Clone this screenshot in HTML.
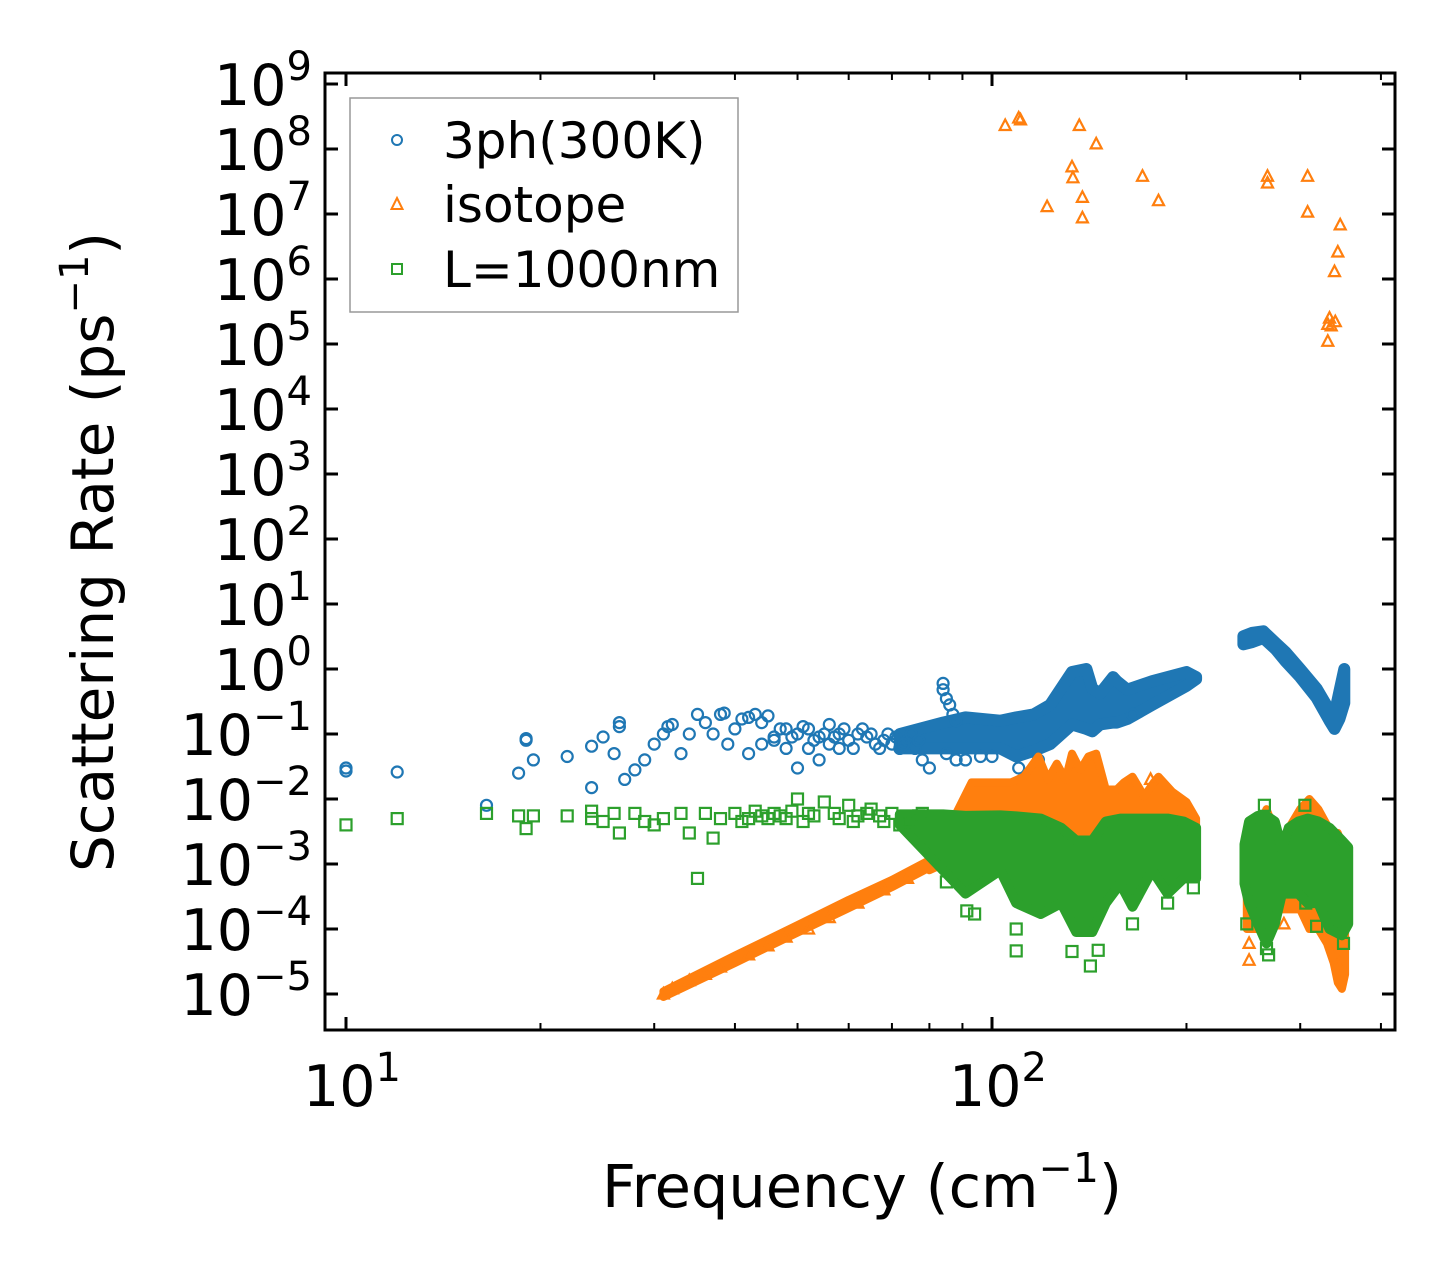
<!DOCTYPE html>
<html><head><meta charset="utf-8"><title>Scattering Rate</title>
<style>html,body{margin:0;padding:0;background:#fff}svg{display:block}text{font-family:"DejaVu Sans","Liberation Sans",sans-serif}</style>
</head><body>
<svg id="chart" width="1455" height="1280" viewBox="0 0 1455 1280" xmlns="http://www.w3.org/2000/svg">
<rect x="0" y="0" width="1455" height="1280" fill="#fff"/>
<defs><clipPath id="plotclip"><rect x="325" y="73" width="1070" height="957"/></clipPath></defs>
<g id="marks" clip-path="url(#plotclip)"></g>
<g id="axes"></g>
<g id="legend">
<rect x="350" y="98" width="388" height="214" fill="#fff" fill-opacity="0.8" stroke="#999" stroke-width="1.5"/>
<circle cx="397" cy="140" r="5" fill="none" stroke="#1f77b4" stroke-width="2"/>
<text x="443" y="158" font-size="50">3ph(300K)</text>
<polygon points="397,198 402.5,209 391.5,209" fill="none" stroke="#ff7f0e" stroke-width="2"/>
<text x="443" y="222" font-size="50">isotope</text>
<rect x="392" y="264" width="10" height="10" fill="none" stroke="#2ca02c" stroke-width="2"/>
<text x="443" y="287" font-size="50">L=1000nm</text>
</g>
<text x="862" y="1207" font-size="59" text-anchor="middle">Frequency (cm<tspan font-size="41" dy="-25">−1</tspan><tspan dy="25">)</tspan></text>
<text transform="translate(113,552) rotate(-90)" font-size="58" text-anchor="middle">Scattering Rate (ps<tspan font-size="40" dy="-25">−1</tspan><tspan dy="25">)</tspan></text>
</svg>
<script>
// ---- data ----
const xTickExps = [1, 2];
const yTickExps = [9,8,7,6,5,4,3,2,1,0,-1,-2,-3,-4,-5];
const xMinorTicks = [9,20,30,40,50,60,70,80,90,200,300,400];

// 3ph scattered points [freq, rate]
const threephPoints = [[10,0.03],[10,0.027],[12,0.026],[16.5,0.008],[18.5,0.025],[19,0.08],[19,0.085],[19.5,0.04],[22,0.045],[24,0.015],[24,0.065],[25,0.09],[26,0.05],[26.5,0.13],[26.5,0.15],[27,0.02],[28,0.028],[29,0.04],[30,0.07],[31,0.1],[31.5,0.13],[32,0.14],[33,0.05],[34,0.1],[35,0.2],[36,0.15],[37,0.1],[38,0.2],[38.5,0.21],[39,0.07],[40,0.12],[41,0.17],[42,0.18],[43,0.2],[44,0.15],[45,0.19],[46,0.08],[47,0.12],[48,0.06],[49,0.09],[50,0.03],[51,0.13],[52,0.12],[53,0.08],[54,0.04],[55,0.1],[56,0.14],[57,0.09],[58,0.06],[59,0.12],[60,0.08],[62,0.1],[64,0.09],[66,0.07],[68,0.08],[70,0.07],[72,0.06],[74,0.08],[76,0.06],[78,0.04],[84,0.6],[84,0.48],[85,0.35],[86,0.28],[87,0.2],[88,0.16],[80,0.03],[85,0.05],[88,0.04],[91,0.04],[96,0.045],[100,0.045],[110,0.03],[118,0.04],[165,0.2],[42,0.05],[44,0.07],[46,0.09],[48,0.12],[50,0.1],[52,0.06],[54,0.09],[56,0.07],[58,0.1],[61,0.06],[63,0.12],[65,0.1],[67,0.06],[69,0.1],[71,0.09],[73,0.07],[75,0.1],[77,0.08]];
// 3ph dense cloud envelopes
const threephBand1Freq = [72,84,91,103,109,116,123,133,140,143,147,154,156,162,177,200,207];
const threephBand1High = [0.1,0.15,0.18,0.16,0.18,0.2,0.28,0.9,1.0,0.5,0.42,0.75,0.65,0.48,0.65,0.9,0.75];
const threephBand1Low  = [0.06,0.06,0.06,0.06,0.045,0.055,0.07,0.14,0.12,0.11,0.14,0.15,0.15,0.17,0.28,0.55,0.7];
const threephBand2Freq = [245,253,263,275,285,300,318,333,339,345,351];
const threephBand2High = [3.2,3.6,3.8,2.5,1.8,1.0,0.5,0.23,0.2,0.45,1.0];
const threephBand2Low  = [2.4,2.6,3.0,2.0,1.3,0.75,0.36,0.16,0.12,0.17,0.3];

// isotope scattered points
const isotopePoints = [[104.8,2.3e8],[110,3e8],[110.7,2.8e8],[121.7,1.3e7],[133,5.3e7],[133.4,3.6e7],[136.5,2.3e8],[138,1.8e7],[138,8.7e6],[145,1.2e8],[171,3.8e7],[181,1.6e7],[267,3.8e7],[267,3e7],[308,3.8e7],[308,1.07e7],[346,6.8e6],[343,2.6e6],[339,1.3e6],[333,2.5e5],[331,2e5],[335,1.9e5],[340,2.2e5],[331,1.1e5],[31,1e-5],[32,1.2e-5],[34,1.6e-5],[36,2e-5],[38,2.6e-5],[42,4e-5],[45,5.5e-5],[48,7.5e-5],[52,1e-4],[56,1.5e-4],[62,2.5e-4],[68,4e-4],[74,6e-4],[176,0.02],[250,6e-5],[250,3.3e-5],[263,2e-4],[266,1.1e-4],[283,1.2e-4],[345,3e-5]];
const isotopeLineFreq = [31,40,50,60,70,80,84];
const isotopeLineHigh = [1.1e-5,3.9e-5,1.15e-4,2.8e-4,5.7e-4,1.15e-3,1.5e-3];
const isotopeLineLow  = [0.9e-5,3e-5,0.88e-4,2.1e-4,4.4e-4,0.88e-3,1.1e-3];
const isotopeBand1Freq = [80,84,88,93,100,107,112,118,122,126,130,133,137,141,145,150,156,160,165,172,178,181,190,200,207];
const isotopeBand1High = [0.001,0.002,0.006,0.018,0.018,0.018,0.022,0.045,0.02,0.035,0.02,0.05,0.028,0.045,0.05,0.014,0.014,0.018,0.022,0.011,0.018,0.022,0.013,0.009,0.005];
const isotopeBand1Low  = [0.0008,0.001,0.0015,0.002,0.002,0.002,0.002,0.002,0.003,0.003,0.003,0.003,0.003,0.003,0.003,0.002,0.002,0.002,0.002,0.002,0.002,0.002,0.002,0.002,0.002];
const isotopeBand2Freq = [248,255,262,266,272,280,290,300,310,320,330,338,343,348,352];
const isotopeBand2High = [0.0008,0.002,0.005,0.007,0.004,0.002,0.004,0.007,0.01,0.007,0.004,0.003,0.003,0.002,0.002];
const isotopeBand2Low  = [0.0001,0.0001,0.0001,0.0002,0.0002,0.0002,0.0002,0.0002,0.0001,0.0001,0.00006,0.00003,0.000015,0.000012,0.00002];

// boundary scattered points
const boundaryPoints = [[10,0.004],[12,0.005],[16.5,0.006],[18.5,0.0055],[19,0.0035],[19.5,0.0055],[22,0.0055],[24,0.005],[24,0.0065],[25,0.0045],[26,0.006],[26.5,0.003],[28,0.006],[29,0.0045],[30,0.004],[31,0.005],[33,0.006],[34,0.003],[35,0.0006],[36,0.006],[37,0.0025],[38,0.005],[40,0.006],[42,0.005],[44,0.0055],[46,0.006],[48,0.005],[50,0.01],[52,0.006],[55,0.009],[58,0.005],[60,0.008],[62,0.0055],[65,0.007],[68,0.0045],[72,0.004],[75,0.005],[78,0.006],[85,5.3e-4],[91.4,1.9e-4],[94,1.7e-4],[109,1e-4],[109,4.6e-5],[133,4.5e-5],[142,2.7e-5],[146,4.7e-5],[165,1.2e-4],[187,2.5e-4],[205,4.3e-4],[248,1.2e-4],[248,7e-4],[266,5e-5],[268,4e-5],[306,2.5e-4],[318,1.1e-4],[350,6e-5],[264,0.008],[305,0.008],[41,0.0045],[43,0.0065],[45,0.005],[47,0.0055],[49,0.0065],[51,0.0045],[53,0.0055],[57,0.006],[61,0.0045],[64,0.006],[67,0.0055],[70,0.006],[74,0.0045],[77,0.0055]];
const boundaryBand1Freq = [72,84,91,103,109,119,128,135,143,150,158,165,177,187,198,207];
const boundaryBand1High = [0.0058,0.0058,0.0055,0.0056,0.0054,0.005,0.0036,0.0023,0.0023,0.0045,0.005,0.005,0.005,0.005,0.0045,0.0036];
const boundaryBand1Low  = [0.004,0.0008,0.00035,0.0008,0.00025,0.00017,0.00025,0.00009,0.00009,0.00025,0.0005,0.00022,0.0008,0.00035,0.0006,0.0006];
const boundaryBand2Freq = [246,250,258,266,274,281,288,298,308,320,333,348,356];
const boundaryBand2High = [0.002,0.0045,0.0055,0.0055,0.0045,0.0017,0.0036,0.0045,0.005,0.0045,0.0036,0.0023,0.0018];
const boundaryBand2Low  = [0.0005,0.00025,0.00012,0.00006,0.00012,0.00035,0.00035,0.00035,0.00025,0.00025,0.0001,0.00008,0.00012];

// ---- axis functions ----
const PL=325, PR=1395, PT=73, PB=1030;
const X10=346, XDEC=646, Y9=84, YDEC=65;
function xs(v){ return X10 + (Math.log10(v)-1)*XDEC; }
function ys(v){ return Y9 + (9-Math.log10(v))*YDEC; }
const NS='http://www.w3.org/2000/svg';
const marks=document.getElementById('marks');
const axes=document.getElementById('axes');
function mk(tag, attrs, parent){ const e=document.createElementNS(NS,tag); for(const k in attrs) e.setAttribute(k,attrs[k]); parent.appendChild(e); return e; }

const COL={threeph:'#1f77b4',isotope:'#ff7f0e',boundary:'#2ca02c'};

function band(freq, hi, lo, color, name, sw){
  let pts=[];
  for(let i=0;i<freq.length;i++) pts.push(xs(freq[i]).toFixed(1)+','+ys(hi[i]).toFixed(1));
  for(let i=freq.length-1;i>=0;i--) pts.push(xs(freq[i]).toFixed(1)+','+ys(lo[i]).toFixed(1));
  const p=mk('polygon',{points:pts.join(' '),fill:color,stroke:color,'stroke-width':sw,'stroke-linejoin':'round'},marks);
  
  
}
function circles(points, name){
  for(const [f,r] of points){
    const c=mk('circle',{cx:xs(f).toFixed(1),cy:ys(r).toFixed(1),r:5.5,fill:'none',stroke:COL.threeph,'stroke-width':2.2},marks);
    
    
  }
}
function triangles(points, name){
  for(const [f,r] of points){
    const x=xs(f), y=ys(r);
    const t=mk('polygon',{points:`${x.toFixed(1)},${(y-6).toFixed(1)} ${(x+5.5).toFixed(1)},${(y+4.5).toFixed(1)} ${(x-5.5).toFixed(1)},${(y+4.5).toFixed(1)}`,fill:'none',stroke:COL.isotope,'stroke-width':2.2},marks);
    
    
  }
}
function squares(points, name){
  for(const [f,r] of points){
    const s=mk('rect',{x:(xs(f)-5.5).toFixed(1),y:(ys(r)-5.5).toFixed(1),width:11,height:11,fill:'none',stroke:COL.boundary,'stroke-width':2.2},marks);
    
    
  }
}
// 3ph
band(threephBand1Freq,threephBand1High,threephBand1Low,COL.threeph,'3ph-cloud-low-freq',12);
band(threephBand2Freq,threephBand2High,threephBand2Low,COL.threeph,'3ph-cloud-high-freq',12);
circles(threephPoints,'3ph-point');
// isotope
band(isotopeLineFreq,isotopeLineHigh,isotopeLineLow,COL.isotope,'isotope-acoustic-branch',8);
band(isotopeBand1Freq,isotopeBand1High,isotopeBand1Low,COL.isotope,'isotope-cloud-low-freq',8);
band(isotopeBand2Freq,isotopeBand2High,isotopeBand2Low,COL.isotope,'isotope-cloud-high-freq',8);
triangles(isotopePoints,'isotope-point');
// boundary
band(boundaryBand1Freq,boundaryBand1High,boundaryBand1Low,COL.boundary,'boundary-cloud-low-freq',10);
band(boundaryBand2Freq,boundaryBand2High,boundaryBand2Low,COL.boundary,'boundary-cloud-high-freq',10);
squares(boundaryPoints,'boundary-point');

// ---- axes ----
const frame=mk('rect',{x:PL,y:PT,width:PR-PL,height:PB-PT,fill:'none',stroke:'#000','stroke-width':3},axes);


for(const e of xTickExps){
  const x=xs(Math.pow(10,e));
  const t1=mk('line',{x1:x,y1:PB,x2:x,y2:PB-13,stroke:'#000','stroke-width':3},axes);
  
  
  const t2=mk('line',{x1:x,y1:PT,x2:x,y2:PT+13,stroke:'#000','stroke-width':3},axes);
  
  
  const lb=mk('text',{x:x+6,y:1106,'font-size':57,'text-anchor':'middle'},axes);
  
  
  lb.innerHTML='10<tspan font-size="40" dy="-25">'+e+'</tspan>';
}
for(const v of xMinorTicks){
  const x=xs(v);
  if(x<PL||x>PR) continue;
  const t1=mk('line',{x1:x,y1:PB,x2:x,y2:PB-7,stroke:'#000','stroke-width':2},axes);
  
  
  const t2=mk('line',{x1:x,y1:PT,x2:x,y2:PT+7,stroke:'#000','stroke-width':2},axes);
  
  
}
for(const e of yTickExps){
  const y=ys(Math.pow(10,e));
  const t1=mk('line',{x1:PL,y1:y,x2:PL+13,y2:y,stroke:'#000','stroke-width':3},axes);
  
  
  const t2=mk('line',{x1:PR,y1:y,x2:PR-13,y2:y,stroke:'#000','stroke-width':3},axes);
  
  
  const lb=mk('text',{x:312,y:y+21,'font-size':57,'text-anchor':'end'},axes);
  
  
  const s=(e<0?'−'+(-e):''+e);
  lb.innerHTML='10<tspan font-size="40" dy="-25">'+s+'</tspan>';
}
</script>
</body></html>
